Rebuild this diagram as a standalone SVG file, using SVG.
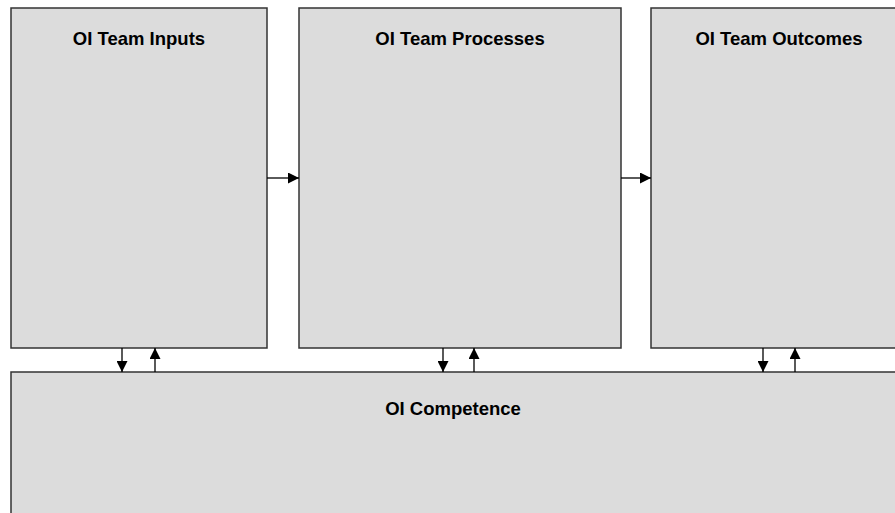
<svg xmlns="http://www.w3.org/2000/svg" width="895" height="513" viewBox="0 0 895 513">
<defs>
<style>
.box{fill:#dcdcdc;stroke:#333333;stroke-width:1.5}
.lbl{font-family:"Liberation Sans",Arial,sans-serif;font-weight:bold;font-size:18.5px;fill:#000;text-anchor:middle}
.con{stroke:#000;stroke-width:1.3;fill:none}
</style>
<marker id="ah" markerWidth="11" markerHeight="11" refX="11" refY="5.5" orient="auto" markerUnits="userSpaceOnUse">
<path d="M0,0 L11,5.5 L0,11 Z" fill="#000"/>
</marker>
</defs>
<rect width="895" height="513" fill="#ffffff"/>
<g id="inputs">
<rect class="box" x="11" y="8" width="256" height="340"/>
<text class="lbl" x="139" y="45">OI Team Inputs</text>
</g>
<g id="processes">
<rect class="box" x="299" y="8" width="322" height="340"/>
<text class="lbl" x="460" y="45">OI Team Processes</text>
</g>
<g id="outcomes">
<rect class="box" x="651" y="8" width="256" height="340"/>
<text class="lbl" x="779" y="45">OI Team Outcomes</text>
</g>
<g id="competence">
<rect class="box" x="11" y="372" width="896" height="160"/>
<text class="lbl" x="453" y="415">OI Competence</text>
</g>
<g id="connectors">
<line class="con" x1="267" y1="178" x2="299" y2="178" marker-end="url(#ah)"/>
<line class="con" x1="621" y1="178" x2="651" y2="178" marker-end="url(#ah)"/>
<line class="con" x1="122" y1="348" x2="122" y2="372" marker-end="url(#ah)"/>
<line class="con" x1="155" y1="372" x2="155" y2="348" marker-end="url(#ah)"/>
<line class="con" x1="443" y1="348" x2="443" y2="372" marker-end="url(#ah)"/>
<line class="con" x1="474" y1="372" x2="474" y2="348" marker-end="url(#ah)"/>
<line class="con" x1="763" y1="348" x2="763" y2="372" marker-end="url(#ah)"/>
<line class="con" x1="795" y1="372" x2="795" y2="348" marker-end="url(#ah)"/>
</g>
</svg>
